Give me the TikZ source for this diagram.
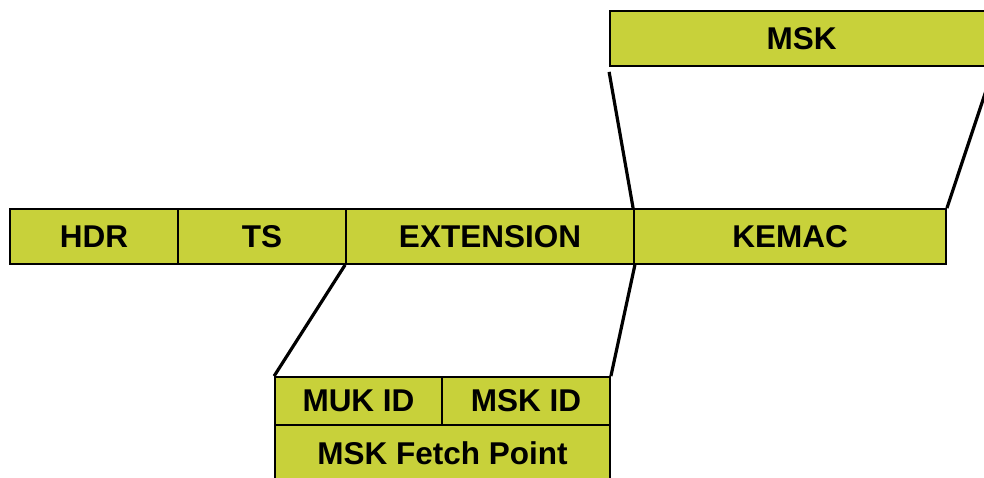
\documentclass[tikz,border=0pt]{standalone}
\usepackage{fontspec}
\setmainfont{Liberation Sans}
\usepackage{xcolor}
\usepackage{tikz}
\definecolor{fieldgreen}{RGB}{200,209,58}

\begin{document}
\begin{tikzpicture}[x=1pt,y=-1pt,
	field/.style={draw,line width=1.8pt,fill=fieldgreen,inner sep=0pt,
		font=\fontsize{31.5}{36}\selectfont\bfseries},
	zoomline/.style={line width=3.2pt}]
		\useasboundingbox (0,0) rectangle (984,477);
		\begin{scope}
		\clip (0,0) rectangle (984,477);
		% key material field
		\node[field,minimum width=383pt,minimum height=55pt] (msk) at (801.5,38.5) {MSK};
		% message fields
		\node[field,minimum width=168pt,minimum height=55pt] (hdr) at (94,236.5) {HDR};
		\node[field,minimum width=168pt,minimum height=55pt] (ts) at (262,236.5) {TS};
		\node[field,minimum width=288pt,minimum height=55pt] (ext) at (490,236.5) {EXTENSION};
		\node[field,minimum width=312pt,minimum height=55pt] (kemac) at (790,236.5) {KEMAC};
		% extension payload
		\node[field,minimum width=167pt,minimum height=48pt] (mukid) at (358.5,401) {MUK ID};
		\node[field,minimum width=168pt,minimum height=48pt] (mskid) at (526,401) {MSK ID};
		\node[field,minimum width=335pt,minimum height=56pt] (fetch) at (442.5,453) {MSK Fetch Point};
		%
		\path[zoomline]
		% KEMAC expansion
		(kemac.north west) edge ([yshift=-5pt]msk.south west)
		(kemac.north east) edge (msk.south east)
		% EXTENSION expansion
		(ext.south west) edge (mukid.north west)
		(ext.south east) edge (mskid.north east);
		\end{scope}
\end{tikzpicture}
\end{document}
